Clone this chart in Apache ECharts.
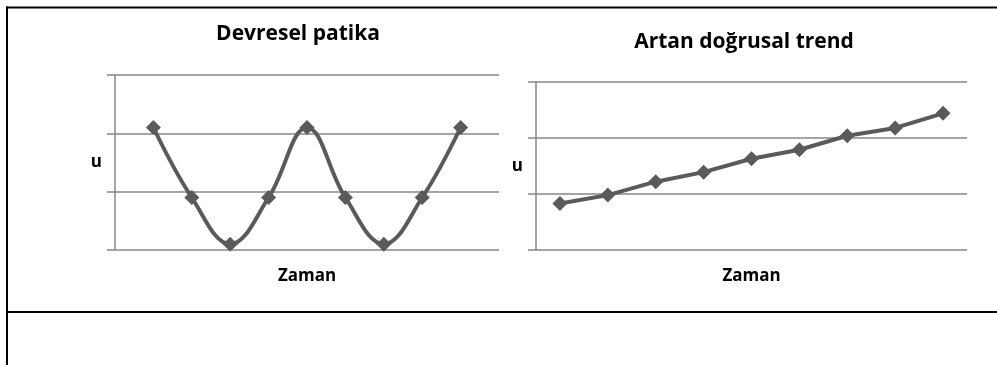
<!DOCTYPE html>
<html>
<head>
<meta charset="utf-8">
<script src="https://cdn.jsdelivr.net/npm/echarts@6/dist/echarts.min.js"></script>
<style>
  html, body { margin: 0; padding: 0; background: #fff; }
  #main { width: 997px; height: 365px; }
</style>
</head>
<body>
<div id="main"></div>
<script>
// devresel patika: zaman noktalari ve u degerleri
var cycleTime = [1, 2, 3, 4, 5, 6, 7, 8, 9];
var cycleU = [2.1, 0.9, 0.1, 0.9, 2.1, 0.9, 0.1, 0.9, 2.1];

// artan dogrusal trend
var trendTime = ['1', '2', '3', '4', '5', '6', '7', '8', '9'];
var trendU = [0.83, 0.98, 1.22, 1.39, 1.63, 1.79, 2.04, 2.18, 2.44];

var titles = ['Devresel patika', 'Artan doğrusal trend'];
var xName = 'Zaman';
var yName = 'u';

var gridColor = '#878787';
var lineColor = '#5a5a5a';
var font = "'Open Sans', sans-serif";

var myChart = echarts.init(document.getElementById('main'));

function yAxisFor(idx) {
    return {
        gridIndex: idx,
        type: 'value',
        min: 0, max: 3, interval: 1,
        name: yName,
        nameLocation: 'middle',
        nameRotate: 0,
        nameGap: 13,
        nameTextStyle: { fontFamily: font, fontWeight: 'bold', fontSize: 17, color: '#000' },
        axisLine: { show: true, lineStyle: { color: gridColor, width: 1.5 } },
        axisTick: { show: true, length: 8, lineStyle: { color: gridColor, width: 1.5 } },
        axisLabel: { show: false },
        splitLine: { show: true, lineStyle: { color: gridColor, width: 1.5 } }
    };
}

var option = {
    animation: false,
    title: [
        {
            text: titles[0], left: 293, top: 19, textAlign: 'center',
            textStyle: { fontFamily: font, fontWeight: 'bold', fontSize: 21, color: '#000' }
        },
        {
            text: titles[1], left: 739, top: 27, textAlign: 'center',
            textStyle: { fontFamily: font, fontWeight: 'bold', fontSize: 21, color: '#000' }
        }
    ],
    grid: [
        { left: 115, right: 498, top: 75, bottom: 115 },
        { left: 536, right: 30, top: 82, bottom: 115 }
    ],
    xAxis: [
        {
            gridIndex: 0, type: 'value', min: 0, max: 10,
            name: xName, nameLocation: 'middle', nameGap: 18,
            nameTextStyle: { fontFamily: font, fontWeight: 'bold', fontSize: 17, color: '#000' },
            axisLine: { show: false }, axisTick: { show: false },
            axisLabel: { show: false }, splitLine: { show: false }
        },
        {
            gridIndex: 1, type: 'category', data: trendTime, boundaryGap: true,
            name: xName, nameLocation: 'middle', nameGap: 18,
            nameTextStyle: { fontFamily: font, fontWeight: 'bold', fontSize: 17, color: '#000' },
            axisLine: { show: false }, axisTick: { show: false },
            axisLabel: { show: false }, splitLine: { show: false }
        }
    ],
    yAxis: [yAxisFor(0), yAxisFor(1)],
    series: [
        {
            type: 'line',
            xAxisIndex: 0, yAxisIndex: 0,
            data: cycleTime.map(function (t, i) { return [t, cycleU[i]]; }),
            smooth: 0.4,
            symbol: 'diamond', symbolSize: 15,
            lineStyle: { color: lineColor, width: 4 },
            itemStyle: { color: lineColor }
        },
        {
            type: 'line',
            xAxisIndex: 1, yAxisIndex: 1,
            data: trendU,
            symbol: 'diamond', symbolSize: 15,
            lineStyle: { color: lineColor, width: 4 },
            itemStyle: { color: lineColor }
        }
    ],
    // cerceve: ust, sol ve alt ayirici cizgi
    graphic: [
        { type: 'rect', shape: { x: 6, y: 6.5, width: 991, height: 2 }, style: { fill: '#000' } },
        { type: 'rect', shape: { x: 6, y: 6.5, width: 2, height: 359 }, style: { fill: '#000' } },
        { type: 'rect', shape: { x: 6, y: 311, width: 991, height: 2 }, style: { fill: '#000' } }
    ]
};
myChart.setOption(option);
</script>
</body>
</html>
